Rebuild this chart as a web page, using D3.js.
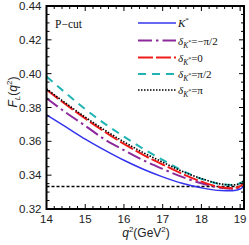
<!DOCTYPE html>
<html>
<head>
<meta charset="utf-8">
<script src="https://cdn.jsdelivr.net/npm/d3@7"></script>
<style>
  body { margin: 0; background: #fff; }
  .tick-label { font-family: "Liberation Sans", Arial, sans-serif; font-size: 11.5px; fill: #222; }
  .serif { font-family: "Liberation Serif", "Times New Roman", serif; font-size: 11px; fill: #111; }
</style>
</head>
<body>
<script>
// q^2 sample points (GeV^2)
const q2 = [14, 14.5, 15, 15.5, 16, 16.5, 17, 17.5, 18, 18.5, 18.8, 19, 19.1];

// F_L(q^2)
const fKstar   = [0.3756, 0.3685, 0.3613, 0.3548, 0.3488, 0.3435, 0.3390, 0.3352, 0.3325, 0.3309, 0.3308, 0.3318, 0.3334];
const fMinusPi2 = [0.3855, 0.3770, 0.3692, 0.3612, 0.3548, 0.3488, 0.3437, 0.3390, 0.3352, 0.3325, 0.3320, 0.3330, 0.3345];
const fZero    = [0.3905, 0.3818, 0.3735, 0.3657, 0.3585, 0.3520, 0.3463, 0.3408, 0.3362, 0.3328, 0.3322, 0.3335, 0.3352];
const fPi2     = [0.3983, 0.3885, 0.3790, 0.3705, 0.3628, 0.3556, 0.3490, 0.3428, 0.3378, 0.3347, 0.3342, 0.3352, 0.3367];
const fPi      = [0.3910, 0.3825, 0.3743, 0.3667, 0.3597, 0.3533, 0.3477, 0.3423, 0.3380, 0.3348, 0.3342, 0.3352, 0.3367];

const xTicks = [14, 15, 16, 17, 18, 19];
const yTicks = [0.32, 0.34, 0.36, 0.38, 0.40, 0.42, 0.44];
const refLine = 1 / 3;

const series = [
  { vals: fKstar,    color: "#3434ee", dash: null,        width: 1.5, label: "kstar" },
  { vals: fMinusPi2, color: "#8c2a9c", dash: "14,4,2.5,4", width: 2,  label: "-π/2" },
  { vals: fZero,     color: "#f01c1c", dash: "15,3",       width: 2,  label: "0" },
  { vals: fPi2,      color: "#22b4b4", dash: "8,6",        width: 2,  label: "π/2" },
  { vals: fPi,       color: "#000000", dash: "1.5,1.5",    width: 1.6, label: "π" }
];

const width = 249, height = 245;
const margin = { left: 46.5, right: 5, top: 6, bottom: 36 };

const svg = d3.select("body").append("svg")
  .attr("width", width)
  .attr("height", height);

const x = d3.scaleLinear().domain([14, 19.1]).range([margin.left, width - margin.right]);
const y = d3.scaleLinear().domain([0.32, 0.44]).range([height - margin.bottom, margin.top]);

const clip = svg.append("clipPath").attr("id", "clip")
  .append("rect")
  .attr("x", x(14)).attr("y", y(0.44))
  .attr("width", x(19.1) - x(14)).attr("height", y(0.32) - y(0.44));

const plot = svg.append("g").attr("clip-path", "url(#clip)");

// reference line F_L = 1/3
plot.append("line")
  .attr("x1", x(14)).attr("x2", x(19.1))
  .attr("y1", y(refLine)).attr("y2", y(refLine))
  .attr("stroke", "#000").attr("stroke-width", 1.4)
  .attr("stroke-dasharray", "3,2");

const line = d3.line()
  .x((d, i) => x(q2[i]))
  .y(d => y(d))
  .curve(d3.curveMonotoneX);

series.forEach(s => {
  plot.append("path")
    .datum(s.vals)
    .attr("d", line)
    .attr("fill", "none")
    .attr("stroke", s.color)
    .attr("stroke-width", s.width)
    .attr("stroke-dasharray", s.dash);
});

// frame ticks (inward, all four sides)
const xMinor = d3.range(14, 19.11, 0.2);
const yMinor = d3.range(0.32, 0.4401, 0.005);
const ticks = svg.append("g").attr("stroke", "#000").attr("stroke-width", 1);

xMinor.forEach(v => {
  const major = xTicks.some(t => Math.abs(t - v) < 1e-6);
  const len = major ? 5 : 3;
  ticks.append("line").attr("x1", x(v)).attr("x2", x(v)).attr("y1", y(0.32)).attr("y2", y(0.32) - len);
  ticks.append("line").attr("x1", x(v)).attr("x2", x(v)).attr("y1", y(0.44)).attr("y2", y(0.44) + len);
});
yMinor.forEach(v => {
  const major = yTicks.some(t => Math.abs(t - v) < 1e-6);
  const len = major ? 5 : 3;
  ticks.append("line").attr("y1", y(v)).attr("y2", y(v)).attr("x1", x(14)).attr("x2", x(14) + len);
  ticks.append("line").attr("y1", y(v)).attr("y2", y(v)).attr("x1", x(19.1)).attr("x2", x(19.1) - len);
});

// frame
svg.append("rect")
  .attr("x", x(14)).attr("y", y(0.44))
  .attr("width", x(19.1) - x(14)).attr("height", y(0.32) - y(0.44))
  .attr("fill", "none").attr("stroke", "#000").attr("stroke-width", 2);

// tick labels
svg.selectAll(".xl").data(xTicks).enter().append("text")
  .attr("class", "tick-label")
  .attr("x", d => x(d)).attr("y", y(0.32) + 14)
  .attr("text-anchor", "middle")
  .text(d => d);

svg.selectAll(".yl").data(yTicks).enter().append("text")
  .attr("class", "tick-label")
  .attr("x", x(14) - 5).attr("y", d => y(d) + 4)
  .attr("text-anchor", "end")
  .text(d => d.toFixed(2));

// axis titles
const xt = svg.append("text").attr("class", "tick-label")
  .attr("x", 146).attr("y", 237).attr("text-anchor", "middle").style("font-size", "12px");
xt.append("tspan").attr("font-style", "italic").text("q");
xt.append("tspan").attr("dy", -5).style("font-size", "8px").text("2");
xt.append("tspan").attr("dy", 5).text("(GeV");
xt.append("tspan").attr("dy", -5).style("font-size", "8px").text("2");
xt.append("tspan").attr("dy", 5).text(")");

const yt = svg.append("text").attr("class", "tick-label")
  .attr("transform", "translate(17,92) rotate(-90)")
  .attr("text-anchor", "middle").style("font-size", "12px");
yt.append("tspan").attr("font-style", "italic").text("F");
yt.append("tspan").attr("dy", 3).style("font-size", "8px").attr("font-style", "italic").text("L");
yt.append("tspan").attr("dy", -3).text("(");
yt.append("tspan").attr("font-style", "italic").text("q");
yt.append("tspan").attr("dy", -5).style("font-size", "8px").text("2");
yt.append("tspan").attr("dy", 5).text(")");

// P-cut label
svg.append("text").attr("class", "serif")
  .attr("x", 55).attr("y", 28).style("font-size", "11.5px")
  .text("P\u2212cut");

// legend
const legY = [23, 40.5, 57.5, 74, 90];
const lg = svg.append("g");
series.forEach((s, i) => {
  lg.append("line")
    .attr("x1", 138).attr("x2", 176)
    .attr("y1", legY[i]).attr("y2", legY[i])
    .attr("stroke", s.color).attr("stroke-width", s.width)
    .attr("stroke-dasharray", s.dash);
  const t = lg.append("text").attr("class", "serif").attr("x", 178).attr("y", legY[i] + 4);
  if (s.label === "kstar") {
    t.append("tspan").attr("font-style", "italic").text("K");
    t.append("tspan").attr("dy", -5).style("font-size", "7px").text("*");
  } else {
    t.append("tspan").attr("font-style", "italic").text("δ");
    t.append("tspan").attr("dy", 3).style("font-size", "7.5px").attr("font-style", "italic").text("K");
    t.append("tspan").attr("dy", -4).style("font-size", "6px").text("*");
    t.append("tspan").attr("dy", 1).text("=" + s.label.replace("-", "\u2212"));
  }
});
</script>
</body>
</html>
